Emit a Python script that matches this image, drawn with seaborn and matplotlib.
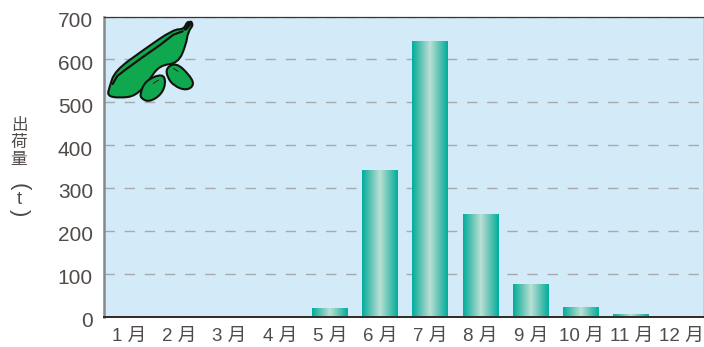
import numpy as np
import pandas as pd
import matplotlib
matplotlib.use("Agg")
import matplotlib.pyplot as plt
from matplotlib.colors import LinearSegmentedColormap
from matplotlib.path import Path
from matplotlib.patches import PathPatch
from matplotlib.transforms import ScaledTranslation
import seaborn as sns

months = ["1 月", "2 月", "3 月", "4 月", "5 月", "6 月", "7 月", "8 月", "9 月", "10 月", "11 月", "12 月"]
shipments = [0, 0, 0, 0, 21, 342, 643, 239, 77, 23, 7, 0]
y_ticks = [0, 100, 200, 300, 400, 500, 600, 700]

W, H = 704, 347
sns.set_theme(style="white")
plt.rcParams["font.family"] = ["Liberation Sans", "Noto Sans CJK JP", "DejaVu Sans"]
TXT = "#504b48"

fig = plt.figure(figsize=(W / 100, H / 100), dpi=100, facecolor="white")
ax = fig.add_axes([104 / W, 1 - 316.5 / H, 600 / W, 300 / H])
ax.set_facecolor("#d3ebf9")

df = pd.DataFrame({"month": months, "shipment": shipments})
sns.barplot(data=df, x="month", y="shipment", width=0.717, color="#00ae9d", saturation=1,
            linewidth=0, ax=ax, zorder=3)
XLIM = (-0.502, 11.45)
ax.set_xlabel("")
ax.set_ylabel("")
ax.set_yticks(y_ticks)
ax.yaxis.grid(True, color="#a6aaad", lw=1.0, dashes=(7.5, 7))
ax.xaxis.grid(False)
ax.set_axisbelow(True)
ax.tick_params(axis="y", length=0, labelsize=15, labelcolor=TXT, pad=8)
ax.tick_params(axis="x", length=0, labelsize=13.5, labelcolor=TXT, pad=8)
shift = ScaledTranslation(0, -3 / 100, fig.dpi_scale_trans)
for lab in ax.get_yticklabels():
    lab.set_transform(lab.get_transform() + shift)

# Horizontal gradient on each bar
cmap = LinearSegmentedColormap.from_list("bar", ["#00ae9d", "#62c4b4", "#bbe1d6", "#62c4b4", "#00ae9d"])
grad = np.linspace(0, 1, 128).reshape(1, -1)
for bar in ax.patches:
    h = bar.get_height()
    if h <= 0:
        continue
    x0 = bar.get_x()
    im = ax.imshow(grad, cmap=cmap, aspect="auto", zorder=4,
                   extent=(x0, x0 + bar.get_width(), 0, h))
    im.set_clip_path(bar)
ax.set_xlim(*XLIM)
ax.set_ylim(0, 700)

for side, c, lw in [("left", "#85888c", 1.8), ("top", "#3a3533", 0.9),
                    ("bottom", "#2e2a28", 1.4), ("right", "#3a3533", 0.9)]:
    ax.spines[side].set_color(c)
    ax.spines[side].set_linewidth(lw)
    ax.spines[side].set_zorder(6)

# Y axis title, set vertically
fig.text(19 / W, 1 - 142 / H, "出\n荷\n量", ha="center", va="center", fontsize=12,
         color=TXT, linespacing=1.0, family=["Noto Sans CJK JP"])
fig.text(19 / W, 1 - 187 / H, "(", rotation=-90, ha="center", va="center", fontsize=16, color=TXT)
fig.text(19 / W, 1 - 200 / H, "t", ha="center", va="center", fontsize=13.5, color=TXT)
fig.text(19 / W, 1 - 213 / H, ")", rotation=-90, ha="center", va="center", fontsize=16, color=TXT)


# Bean pod decoration (outline in zoomed image pixels, 3x)
def to_fig(points):
    pts = np.array(points, float) / 3
    pts[:, 0] /= W
    pts[:, 1] = 1 - pts[:, 1] / H
    return pts


def smooth(points):
    pts = to_fig(points)
    mids = (pts + np.roll(pts, -1, axis=0)) / 2
    verts = [mids[-1]]
    codes = [Path.MOVETO]
    for p, m in zip(pts, mids):
        verts += [p, m]
        codes += [Path.CURVE3, Path.CURVE3]
    return Path(verts, codes)


def blob(points, fc="#0fa84e", lw=1.5, z=8):
    fig.add_artist(PathPatch(smooth(points), fc=fc, ec="#14120f", lw=lw, zorder=z,
                             transform=fig.transFigure))


def stroke(points, lw=1.6, z=9):
    fig.add_artist(PathPatch(Path(to_fig(points)), fc="none", ec="#14120f", lw=lw, zorder=z,
                             capstyle="round", joinstyle="round", transform=fig.transFigure))


pod = [(322, 288), (328, 262), (345, 212), (430, 150), (520, 88), (552, 88), (562, 62), (582, 72),
       (564, 95), (558, 135), (534, 190), (478, 196), (448, 240), (408, 288), (358, 294)]
blob(pod)
stroke([(338, 252), (352, 228), (375, 210), (430, 170), (480, 135), (520, 104), (548, 94)])
stroke([(556, 86), (572, 68)], lw=3)
blob([(420, 282), (436, 242), (488, 220), (498, 248), (484, 284), (448, 306), (424, 296)])
blob([(498, 204), (528, 188), (566, 222), (584, 254), (560, 272), (522, 258), (502, 232)])
stroke([(460, 250), (476, 240)], lw=0.6)
stroke([(520, 205), (534, 214)], lw=0.6)

fig.savefig("out.png", dpi=100)
